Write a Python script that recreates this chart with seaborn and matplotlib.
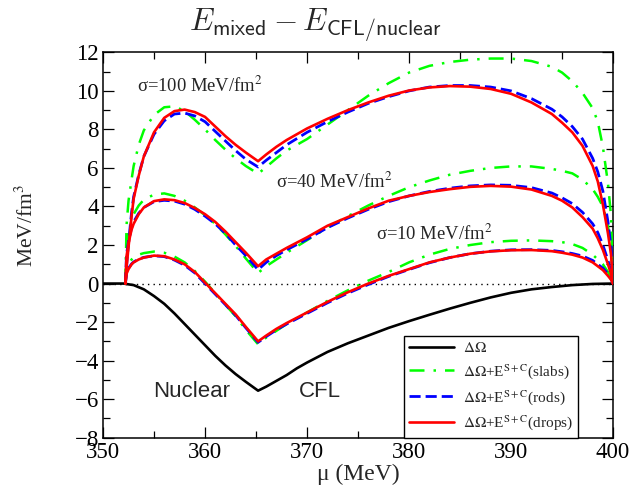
import numpy as np
import pandas as pd
import matplotlib
matplotlib.use("Agg")
import matplotlib.pyplot as plt
import seaborn as sns
from matplotlib.ticker import MultipleLocator

# ---------------- data ----------------
MU_B = [350, 352, 353, 354, 355, 356, 357, 358, 359, 360, 361, 362, 363, 364, 365.2,
        366, 367, 368, 369, 370, 372, 374, 376, 378, 380, 382, 384, 386, 388, 390,
        392, 394, 396, 398, 400]
D_OMEGA = [0, 0, -0.08, -0.3, -0.65, -1.05, -1.55, -2.1, -2.65, -3.2, -3.75, -4.25, -4.7,
           -5.1, -5.56, -5.35, -5.05, -4.75, -4.4, -4.1, -3.55, -3.1, -2.7, -2.3, -1.95,
           -1.62, -1.3, -1.0, -0.72, -0.48, -0.3, -0.18, -0.08, -0.02, 0]

MU = [352.2, 352.3, 352.5, 352.8, 353, 353.5, 354, 355, 356, 357, 358, 359, 360, 361,
      362, 363, 364, 365.2, 366, 367, 368, 370, 372, 374, 376, 378, 380, 382, 384, 386,
      388, 390, 392, 394, 395, 396, 397, 398, 398.5, 399, 399.5, 399.8, 400]

# sigma = 100 MeV/fm^2
G100 = [0, 3.0, 4.3, 5.4, 6.1, 7.2, 7.95, 8.75, 9.15, 9.2, 8.95, 8.5, 8.0, 7.45, 6.95,
        6.5, 6.1, 5.7, 6.05, 6.5, 6.9, 7.5, 8.25, 9.0, 9.75, 10.4, 10.95, 11.3, 11.5,
        11.62, 11.68, 11.68, 11.55, 11.25, 10.95, 10.5, 9.9, 9.1, 8.4, 7.1, 5.2, 3.5, 0]
B100 = [0, 0.9, 2.1, 3.7, 4.5, 5.65, 6.6, 7.75, 8.45, 8.8, 8.85, 8.7, 8.4, 7.9, 7.4,
        6.9, 6.45, 6.05, 6.4, 6.8, 7.2, 7.85, 8.4, 8.9, 9.35, 9.7, 10.0, 10.2, 10.28,
        10.28, 10.2, 10.0, 9.6, 9.05, 8.65, 8.15, 7.5, 6.5, 5.8, 4.8, 3.2, 1.9, 0]
R100 = [0, 0.8, 1.9, 3.5, 4.4, 5.6, 6.6, 7.85, 8.6, 8.95, 9.03, 8.9, 8.65, 8.15, 7.65,
        7.2, 6.8, 6.35, 6.7, 7.1, 7.45, 8.05, 8.55, 9.0, 9.4, 9.75, 10.02, 10.18, 10.25,
        10.22, 10.1, 9.85, 9.4, 8.8, 8.35, 7.85, 7.15, 6.1, 5.3, 4.1, 2.6, 1.5, 0]

# sigma = 40 MeV/fm^2
G40 = [0, 2.0, 2.7, 3.3, 3.6, 4.05, 4.35, 4.62, 4.68, 4.55, 4.3, 3.95, 3.55, 3.1, 2.55,
       1.95, 1.3, 0.55, 0.9, 1.25, 1.6, 2.25, 2.9, 3.5, 4.05, 4.55, 5.0, 5.35, 5.65, 5.85,
       6.0, 6.08, 6.08, 5.95, 5.85, 5.72, 5.4, 4.9, 4.5, 4.0, 3.0, 1.8, 0]
B40 = [0, 1.5, 2.2, 2.9, 3.2, 3.65, 3.95, 4.25, 4.32, 4.28, 4.12, 3.85, 3.5, 3.1, 2.6,
       2.0, 1.45, 0.72, 1.1, 1.45, 1.75, 2.3, 2.9, 3.4, 3.85, 4.25, 4.55, 4.78, 4.95,
       5.07, 5.12, 5.1, 4.98, 4.7, 4.45, 4.15, 3.7, 3.1, 2.65, 2.0, 1.2, 0.6, 0]
R40 = [0, 1.4, 2.1, 2.8, 3.1, 3.6, 3.95, 4.28, 4.37, 4.33, 4.18, 3.92, 3.6, 3.2, 2.7,
       2.15, 1.6, 0.9, 1.25, 1.55, 1.85, 2.4, 3.0, 3.45, 3.9, 4.3, 4.55, 4.75, 4.9, 5.02,
       5.07, 5.03, 4.88, 4.55, 4.3, 3.95, 3.45, 2.85, 2.35, 1.75, 1.0, 0.5, 0]

# sigma = 10 MeV/fm^2
G10 = [0, 0.7, 1.0, 1.25, 1.35, 1.5, 1.58, 1.66, 1.6, 1.4, 1.1, 0.65, 0.1, -0.5, -1.1,
       -1.7, -2.4, -3.15, -2.8, -2.45, -2.1, -1.5, -0.9, -0.35, 0.15, 0.6, 1.1, 1.5, 1.8,
       2.0, 2.15, 2.22, 2.24, 2.2, 2.15, 2.05, 1.85, 1.5, 1.25, 1.0, 0.6, 0.3, 0]
B10 = [0, 0.55, 0.8, 1.02, 1.12, 1.27, 1.36, 1.44, 1.4, 1.22, 0.95, 0.55, 0.0, -0.55,
       -1.1, -1.65, -2.3, -3.05, -2.75, -2.4, -2.1, -1.55, -1.0, -0.5, -0.05, 0.37, 0.73,
       1.08, 1.35, 1.55, 1.68, 1.75, 1.76, 1.72, 1.65, 1.56, 1.43, 1.2, 1.0, 0.8, 0.5,
       0.25, 0]
R10 = [0, 0.5, 0.75, 1.0, 1.1, 1.25, 1.35, 1.45, 1.42, 1.25, 1.0, 0.6, 0.05, -0.5,
       -1.05, -1.6, -2.25, -3.0, -2.7, -2.35, -2.05, -1.5, -0.95, -0.45, 0.0, 0.4, 0.75,
       1.1, 1.35, 1.55, 1.67, 1.73, 1.74, 1.68, 1.6, 1.5, 1.35, 1.1, 0.9, 0.7, 0.4, 0.2, 0]

SIGMA_LABELS = ["σ=100 MeV/fm$^{2}$", "σ=40 MeV/fm$^{2}$", "σ=10 MeV/fm$^{2}$"]
LEGEND_LABELS = [r"$\Delta\Omega$",
                 r"$\Delta\Omega$+E$^{\mathrm{S+C}}$(slabs)",
                 r"$\Delta\Omega$+E$^{\mathrm{S+C}}$(rods)",
                 r"$\Delta\Omega$+E$^{\mathrm{S+C}}$(drops)"]

# ---------------- style ----------------
sns.set_theme(style="ticks")
plt.rcParams["font.family"] = ["Liberation Serif", "DejaVu Serif"]
plt.rcParams["mathtext.fontset"] = "stix"
plt.rcParams["axes.linewidth"] = 1.1
plt.rcParams["axes.edgecolor"] = "black"

fig = plt.figure(figsize=(6.34, 4.94), dpi=100)
ax = fig.add_axes([0.1625, 0.114, 0.8045, 0.78])

GREEN = "#00ff00"
BLUE = "#0000ff"
RED = "#ff0000"

ax.axhline(0, color="black", lw=1.0, ls=(0, (1, 3)), zorder=1)

sns.lineplot(x=MU_B, y=D_OMEGA, ax=ax, color="black", lw=1.9, label=LEGEND_LABELS[0],
             zorder=3)

first = True
for g, b, r in [(G100, B100, R100), (G40, B40, R40), (G10, B10, R10)]:
    sns.lineplot(x=MU, y=g, ax=ax, color=GREEN, lw=1.8,
                 label=LEGEND_LABELS[1] if first else None, zorder=4)
    ax.lines[-1].set_dashes([6.0, 3.6, 1.0, 3.6])
    sns.lineplot(x=MU, y=b, ax=ax, color=BLUE, lw=2.0,
                 label=LEGEND_LABELS[2] if first else None, zorder=5)
    ax.lines[-1].set_dashes([4.0, 1.8])
    sns.lineplot(x=MU, y=r, ax=ax, color=RED, lw=1.9,
                 label=LEGEND_LABELS[3] if first else None, zorder=6)
    first = False

ax.set_xlim(350, 400)
ax.set_ylim(-8, 12)
ax.xaxis.set_major_locator(MultipleLocator(10))
ax.xaxis.set_minor_locator(MultipleLocator(5))
ax.yaxis.set_major_locator(MultipleLocator(2))
ax.yaxis.set_minor_locator(MultipleLocator(1))
ax.tick_params(which="both", direction="in", top=True, right=True, colors="black",
               labelsize=16.5, width=0.9)
ax.tick_params(which="major", length=8, pad=3)
ax.tick_params(which="minor", length=5)

ax.set_xlabel("μ (MeV)", fontsize=17, labelpad=1)
ax.set_ylabel("MeV/fm$^{3}$", fontsize=15.5)
ax.yaxis.set_label_coords(-0.128, 0.55)

# annotations
ax.text(353.3, 9.95, SIGMA_LABELS[0], fontsize=13.4, ha="left", va="baseline")
ax.text(367.0, 4.95, SIGMA_LABELS[1], fontsize=13.4, ha="left", va="baseline")
ax.text(376.8, 2.26, SIGMA_LABELS[2], fontsize=13.4, ha="left", va="baseline")
ax.text(358.7, -5.62, "Nuclear", fontsize=16, ha="center", va="center",
        family=["Liberation Sans", "DejaVu Sans"])
ax.text(371.3, -5.62, "CFL", fontsize=16, ha="center", va="center",
        family=["Liberation Sans", "DejaVu Sans"])

leg = ax.legend(loc="lower left", bbox_to_anchor=(0.59, 0.0), fontsize=11,
                frameon=True, fancybox=False, framealpha=1, edgecolor="black",
                handlelength=2.9, handletextpad=0.6, borderpad=0.35,
                labelspacing=0.45, borderaxespad=0.0)
leg.get_frame().set_linewidth(1.0)

fig.text(316 / 634, 1 - 25 / 494, r"$E_{\mathsf{mixed}} - E_{\mathsf{CFL/nuclear}}$",
         fontsize=22.5, ha="center", va="center", math_fontfamily="cm")

fig.savefig("out.png", dpi=100)
